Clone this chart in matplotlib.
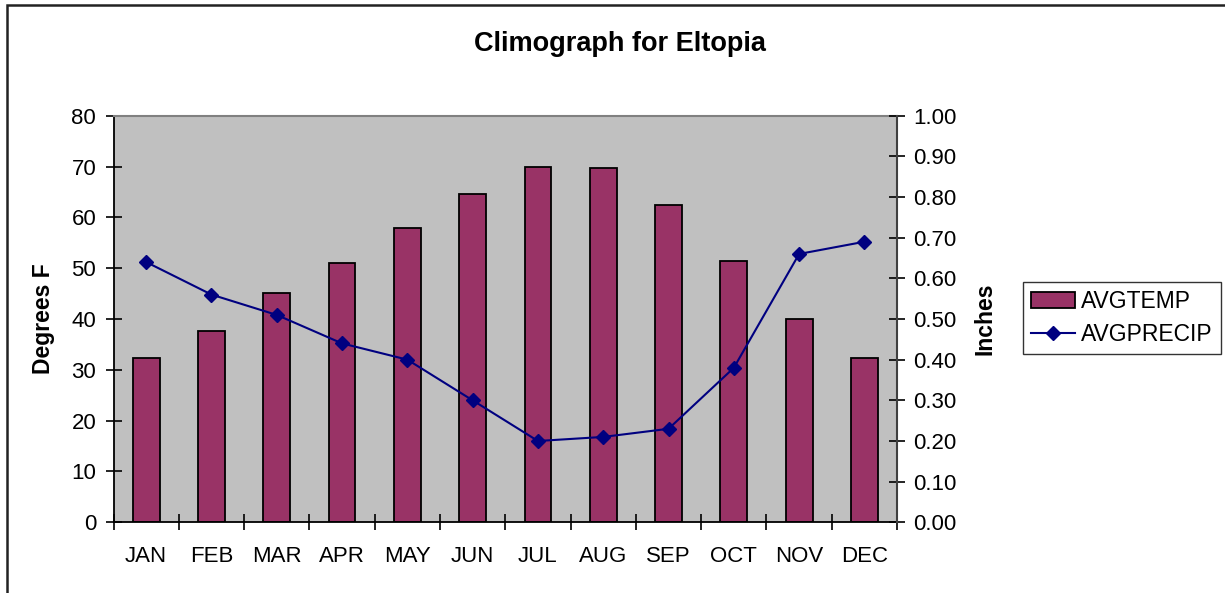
import numpy as np
import matplotlib
matplotlib.use("Agg")
import matplotlib.pyplot as plt
from matplotlib.patches import Rectangle

# data
months = ["JAN", "FEB", "MAR", "APR", "MAY", "JUN",
          "JUL", "AUG", "SEP", "OCT", "NOV", "DEC"]
avg_temp = [32.4, 37.6, 45.2, 51.0, 58.0, 64.5, 70.0, 69.7, 62.5, 51.4, 40.0, 32.4]
avg_precip = [0.64, 0.56, 0.51, 0.44, 0.40, 0.30, 0.20, 0.21, 0.23, 0.38, 0.66, 0.69]
temp_ticks = [0, 10, 20, 30, 40, 50, 60, 70, 80]
precip_ticks = [0.0, 0.1, 0.2, 0.3, 0.4, 0.5, 0.6, 0.7, 0.8, 0.9, 1.0]

plt.rcParams['font.family'] = ['Liberation Sans', 'DejaVu Sans']

fig = plt.figure(figsize=(12.25, 5.93), dpi=100)

# frame round the whole chart (Excel chart area)
fig.patches.append(Rectangle((7 / 1225, -0.05), 1.1, 1.05 - 5 / 593,
                             transform=fig.transFigure, fill=False,
                             edgecolor='#222222', linewidth=1.8))

ax = fig.add_axes([0.0927, 0.1192, 0.6396, 0.6857])
ax.set_facecolor('#C0C0C0')

x = np.arange(len(months))
bars = ax.bar(x, avg_temp, width=0.41, color='#993366', edgecolor='black',
              linewidth=1.3, label='AVGTEMP', zorder=2)

ax.set_xlim(-0.5, len(months) - 0.5)
ax.set_ylim(0, 80)
ax.set_yticks(temp_ticks)
ax.set_xticks(x)
ax.set_xticklabels(months)
ax.set_xticks(np.arange(-0.5, len(months)), minor=True)
ax.tick_params(axis='x', which='major', length=0, pad=17, labelsize=16)
ax.tick_params(axis='x', which='minor', direction='inout', length=11, width=1.2)
ax.tick_params(axis='y', direction='inout', length=11, width=1.2, pad=7, labelsize=16)
ax.set_ylabel('Degrees F', fontsize=16.5, fontweight='bold', labelpad=12)

for side in ['left', 'bottom']:
    ax.spines[side].set_color('black')
    ax.spines[side].set_linewidth(1.3)
ax.spines['top'].set_color('#808080')
ax.spines['top'].set_linewidth(1.5)
ax.spines['right'].set_visible(False)

ax2 = ax.twinx()
line, = ax2.plot(x, avg_precip, color='#000080', linewidth=1.5, marker='D',
                 markersize=7, markerfacecolor='#000080', markeredgecolor='#000080',
                 label='AVGPRECIP', zorder=3)
ax2.set_ylim(0, 1.0)
ax2.set_yticks(precip_ticks)
ax2.set_yticklabels(['%.2f' % v for v in precip_ticks])
ax2.tick_params(axis='y', direction='inout', length=11, width=1.2, pad=6, labelsize=16)
ax2.set_ylabel('Inches', fontsize=16.5, fontweight='bold', labelpad=12)
ax2.spines['right'].set_color('#404040')
ax2.spines['right'].set_linewidth(1.5)
ax2.spines['top'].set_visible(False)
ax2.spines['left'].set_visible(False)
ax2.spines['bottom'].set_visible(False)

fig.text(620 / 1225, 1 - 44 / 593, 'Climograph for Eltopia', ha='center', va='center',
         fontsize=19.5, fontweight='bold')

leg = fig.legend([bars, line], ['AVGTEMP', 'AVGPRECIP'], loc='upper left',
                 bbox_to_anchor=(1023 / 1225, 1 - 282 / 593), borderaxespad=0,
                 fontsize=16.5, frameon=True, fancybox=False, handlelength=1.9,
                 handletextpad=0.3, borderpad=0.35, labelspacing=0.45)
leg.get_frame().set_edgecolor('black')
leg.get_frame().set_linewidth(1.0)

fig.savefig('out.png', dpi=100)
